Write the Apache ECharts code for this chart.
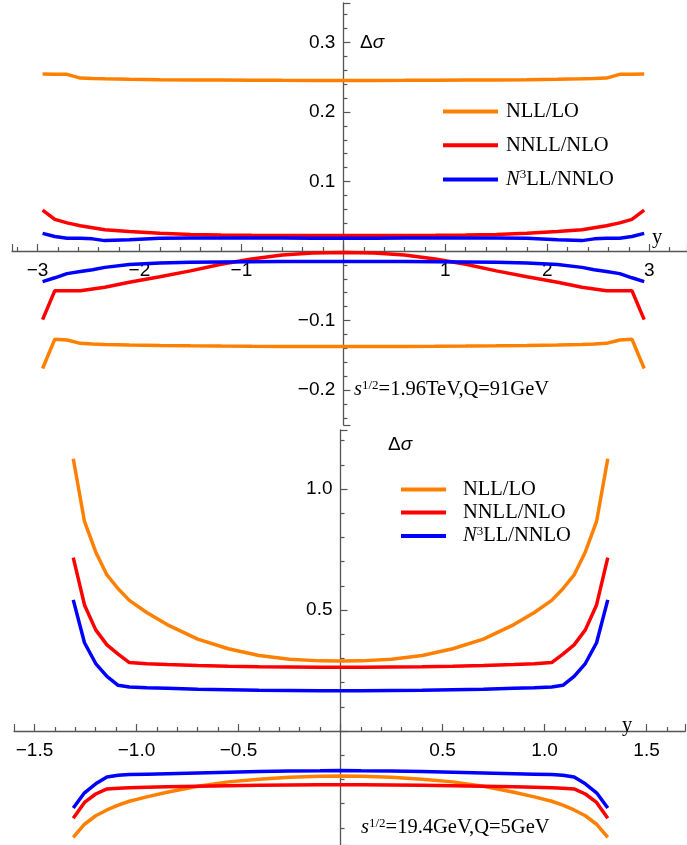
<!DOCTYPE html>
<html><head><meta charset="utf-8">
<script src="https://cdn.jsdelivr.net/npm/echarts@6/dist/echarts.min.js"></script>
<style>html,body{margin:0;padding:0;background:#fff}#c{width:687px;height:845px}</style>
</head><body><div id="c"></div>
<script>
// ---------- Top panel: s^1/2 = 1.96 TeV, Q = 91 GeV ----------
const xTop = [-2.95,-2.83,-2.71,-2.58,-2.46,-2.34,-2.1,-1.8,-1.5,-1.2,-0.9,-0.6,-0.3,0,0.3,0.6,0.9,1.2,1.5,1.8,2.1,2.34,2.46,2.58,2.71,2.83,2.95];
const nllTopUp = [0.2547,0.2545,0.2542,0.2488,0.2482,0.2478,0.2472,0.2466,0.2462,0.246,0.2458,0.2456,0.2455,0.2455,0.2455,0.2456,0.2458,0.246,0.2462,0.2466,0.2472,0.2478,0.2482,0.2488,0.2542,0.2545,0.2547];
const nllTopLo = [-0.169,-0.1268,-0.128,-0.1328,-0.1338,-0.1344,-0.1352,-0.1358,-0.1363,-0.1367,-0.137,-0.1372,-0.1374,-0.1375,-0.1374,-0.1372,-0.137,-0.1367,-0.1363,-0.1358,-0.1352,-0.1344,-0.1338,-0.1328,-0.128,-0.1268,-0.169];
const nnllTopUp = [0.059,0.0456,0.0405,0.0365,0.0335,0.0305,0.028,0.0255,0.0238,0.023,0.0226,0.0224,0.0223,0.0223,0.0223,0.0224,0.0226,0.023,0.0238,0.0255,0.028,0.0305,0.0335,0.0365,0.0405,0.0456,0.059];
const nnllTopLo = [-0.0987,-0.057,-0.057,-0.057,-0.0545,-0.052,-0.045,-0.037,-0.0285,-0.019,-0.0115,-0.0058,-0.003,-0.002,-0.003,-0.0058,-0.0115,-0.019,-0.0285,-0.037,-0.045,-0.052,-0.0545,-0.057,-0.057,-0.057,-0.0987];
const n3llTopUp = [0.0254,0.021,0.0185,0.0183,0.0175,0.015,0.0162,0.0183,0.0187,0.0188,0.0187,0.0186,0.0185,0.0185,0.0185,0.0186,0.0187,0.0188,0.0187,0.0183,0.0162,0.015,0.0175,0.0183,0.0185,0.021,0.0254];
const n3llTopLo = [-0.044,-0.0385,-0.0325,-0.0295,-0.027,-0.0235,-0.0195,-0.0172,-0.0162,-0.0157,-0.0154,-0.0152,-0.0151,-0.0151,-0.0151,-0.0152,-0.0154,-0.0157,-0.0162,-0.0172,-0.0195,-0.0235,-0.027,-0.0295,-0.0325,-0.0385,-0.044];
const xTopLabels = [-3,-2,-1,1,2,3];
const yTopLabels = [-0.2,-0.1,0.1,0.2,0.3];

// ---------- Bottom panel: s^1/2 = 19.4 GeV, Q = 5 GeV ----------
const xBot = [-1.31,-1.255,-1.2,-1.145,-1.09,-1.035,-0.95,-0.85,-0.7,-0.55,-0.4,-0.25,-0.1,0,0.1,0.25,0.4,0.55,0.7,0.85,0.95,1.035,1.09,1.145,1.2,1.255,1.31];
const nllBotUp = [1.125,0.866,0.74,0.645,0.588,0.54,0.49,0.44,0.38,0.34,0.312,0.297,0.29,0.289,0.29,0.297,0.312,0.34,0.38,0.44,0.49,0.54,0.588,0.645,0.74,0.866,1.125];
const nllBotLo = [-0.439,-0.385,-0.35,-0.326,-0.306,-0.29,-0.272,-0.253,-0.228,-0.21,-0.199,-0.191,-0.187,-0.186,-0.187,-0.191,-0.199,-0.21,-0.228,-0.253,-0.272,-0.29,-0.306,-0.326,-0.35,-0.385,-0.439];
const nnllBotUp = [0.717,0.521,0.418,0.356,0.318,0.283,0.278,0.275,0.271,0.268,0.266,0.265,0.264,0.264,0.264,0.265,0.266,0.268,0.271,0.275,0.278,0.283,0.318,0.356,0.418,0.521,0.717];
const nnllBotLo = [-0.36,-0.295,-0.26,-0.239,-0.236,-0.234,-0.232,-0.23,-0.228,-0.226,-0.224,-0.223,-0.222,-0.222,-0.222,-0.223,-0.224,-0.226,-0.228,-0.23,-0.232,-0.234,-0.236,-0.239,-0.26,-0.295,-0.36];
const n3llBotUp = [0.542,0.365,0.279,0.226,0.189,0.182,0.179,0.177,0.173,0.171,0.169,0.168,0.167,0.167,0.167,0.168,0.169,0.171,0.173,0.177,0.179,0.182,0.189,0.226,0.279,0.365,0.542];
const n3llBotLo = [-0.318,-0.255,-0.218,-0.19,-0.183,-0.18,-0.178,-0.176,-0.173,-0.17,-0.167,-0.165,-0.164,-0.163,-0.164,-0.165,-0.167,-0.17,-0.173,-0.176,-0.178,-0.18,-0.183,-0.19,-0.218,-0.255,-0.318];
const xBotLabels = [-1.5,-1,-0.5,0.5,1,1.5];
const yBotLabels = [0.5,1];

const names = ['NLL/LO','NNLL/NLO','N3LL/NNLO'];
const colors = ['#FF8000','#FF0000','#0000FF'];

const SANS = 'Liberation Sans';
const SERIF = 'Liberation Serif';
const AX = '#555';

const G = [
  {left:12, top:2.9, width:675, height:421.9, xMin:-3.25, xMax:3.37, yMin:-0.25, yMax:0.357},
  {left:14.1, top:430, width:671.2, height:414.8, xMin:-1.6, xMax:1.69, yMin:-0.47, yMax:1.244}
];
function xOffset(g){ return -g.height * (-g.yMin) / (g.yMax - g.yMin); }
function yOffset(g){ return -g.width * (-g.xMin) / (g.xMax - g.xMin); }

function fmt(dec){ return v => (v < 0 ? '\u2212' : '') + Math.abs(v).toFixed(dec); }

function axisCommon(iv, labels, dec, margin){
  return {minInterval:iv, maxInterval:iv,
    axisLine:{show:true, onZero:false, lineStyle:{color:AX, width:1.3}},
    axisTick:{show:true, inside:true, length:7, lineStyle:{color:AX, width:1.2}},
    minorTick:{show:true, splitNumber:5, length:4, lineStyle:{color:AX, width:1.2}},
    axisLabel:{show:true, customValues:labels, formatter:fmt(dec), margin, color:'#000', fontFamily:SANS, fontSize:19},
    splitLine:{show:false}, minorSplitLine:{show:false}};
}
function xAxis(i, iv, labels, dec){
  const g = G[i];
  return Object.assign({type:'value', gridIndex:i, min:g.xMin, max:g.xMax, position:'bottom', offset:xOffset(g)},
    axisCommon(iv, labels, dec, 10));
}
function yAxis(i, iv, labels, dec){
  const g = G[i];
  return Object.assign({type:'value', gridIndex:i, min:g.yMin, max:g.yMax, position:'left', offset:yOffset(g)},
    axisCommon(iv, labels, dec, 8));
}
function pairs(xs, ys){ return xs.map((x,i)=>[x, ys[i]]); }
function line(name, color, grid, xs, ys){
  return {type:'line', name, color, xAxisIndex:grid, yAxisIndex:grid, data:pairs(xs, ys),
    symbol:'none', showSymbol:false, lineStyle:{width:3.5, color}, itemStyle:{color}, silent:true, z:3};
}

const legendRich = {
  t:{fontFamily:SERIF, fontWeight:'normal', fontSize:20.5, lineHeight:22, color:'#000'},
  i:{fontFamily:SERIF, fontWeight:'normal', fontStyle:'italic', fontSize:20.5, lineHeight:22, color:'#000'},
  sup:{fontFamily:SERIF, fontWeight:'normal', fontSize:13, lineHeight:13, verticalAlign:'top', color:'#000'}
};
function legendFmt(n){ return n === 'N3LL/NNLO' ? '{i|N}{sup|3}{t|LL/NNLO}' : '{t|' + n + '}'; }

const topSeries = [
  line(names[0], colors[0], 0, xTop, nllTopUp), line(names[0], colors[0], 0, xTop, nllTopLo),
  line(names[1], colors[1], 0, xTop, nnllTopUp), line(names[1], colors[1], 0, xTop, nnllTopLo),
  line(names[2], colors[2], 0, xTop, n3llTopUp), line(names[2], colors[2], 0, xTop, n3llTopLo)
];
const botSeries = [
  line(names[0], colors[0], 1, xBot, nllBotUp), line(names[0], colors[0], 1, xBot, nllBotLo),
  line(names[1], colors[1], 1, xBot, nnllBotUp), line(names[1], colors[1], 1, xBot, nnllBotLo),
  line(names[2], colors[2], 1, xBot, n3llBotUp), line(names[2], colors[2], 1, xBot, n3llBotLo)
];

const dsRich = {
  d:{fontFamily:SANS, fontWeight:'normal', fontSize:19, lineHeight:22, color:'#000'},
  s:{fontFamily:SANS, fontWeight:'normal', fontStyle:'italic', fontSize:19, lineHeight:22, color:'#000'}
};
const annRich = {
  s:{fontFamily:SERIF, fontWeight:'normal', fontStyle:'italic', fontSize:20.5, lineHeight:22, color:'#000'},
  sup:{fontFamily:SERIF, fontWeight:'normal', fontSize:13, lineHeight:13, verticalAlign:'top', color:'#000'},
  t:{fontFamily:SERIF, fontWeight:'normal', fontSize:20.5, lineHeight:22, color:'#000'}
};
const yRich = { t:{fontFamily:SERIF, fontWeight:'normal', fontSize:20.5, lineHeight:22, color:'#000'} };
const titleTS = r => ({fontWeight:'normal', rich:r});

const option = {
  animation:false,
  backgroundColor:'#fff',
  grid: G.map(g => ({left:g.left, top:g.top, width:g.width, height:g.height, containLabel:false, outerBoundsMode:'none', show:false})),
  xAxis:[
    xAxis(0, 1, xTopLabels, 0),
    xAxis(1, 0.5, xBotLabels, 1)
  ],
  yAxis:[
    yAxis(0, 0.1, yTopLabels, 1),
    yAxis(1, 0.5, yBotLabels, 1)
  ],
  legend:[
    {data:names, left:443, top:101, orient:'vertical', padding:0, itemGap:12.7, itemWidth:55, itemHeight:4,
     icon:'rect', selectedMode:false, formatter:legendFmt,
     textStyle:{fontWeight:'normal', rich:legendRich, padding:[0,0,0,3]}},
    {data:names, left:401, top:479, orient:'vertical', padding:0, itemGap:2, itemWidth:45, itemHeight:4,
     icon:'rect', selectedMode:false, formatter:legendFmt,
     textStyle:{fontWeight:'normal', rich:legendRich, padding:[0,0,0,12]}}
  ],
  title:[
    {text:'{d|\u0394}{s|\u03c3}', left:360, top:32, padding:0, textStyle:titleTS(dsRich)},
    {text:'{d|\u0394}{s|\u03c3}', left:388, top:434, padding:0, textStyle:titleTS(dsRich)},
    {text:'{t|y}', left:652, top:227, padding:0, textStyle:titleTS(yRich)},
    {text:'{t|y}', left:622, top:715, padding:0, textStyle:titleTS(yRich)},
    {text:'{s|s}{sup|1/2}{t|=1.96TeV,Q=91GeV}', left:354, top:379, padding:0, textStyle:titleTS(annRich)},
    {text:'{s|s}{sup|1/2}{t|=19.4GeV,Q=5GeV}', left:361, top:817, padding:0, textStyle:titleTS(annRich)}
  ],
  series: topSeries.concat(botSeries)
};
const chart = echarts.init(document.getElementById('c'), null, {renderer:'canvas'});
chart.setOption(option);
</script></body></html>
